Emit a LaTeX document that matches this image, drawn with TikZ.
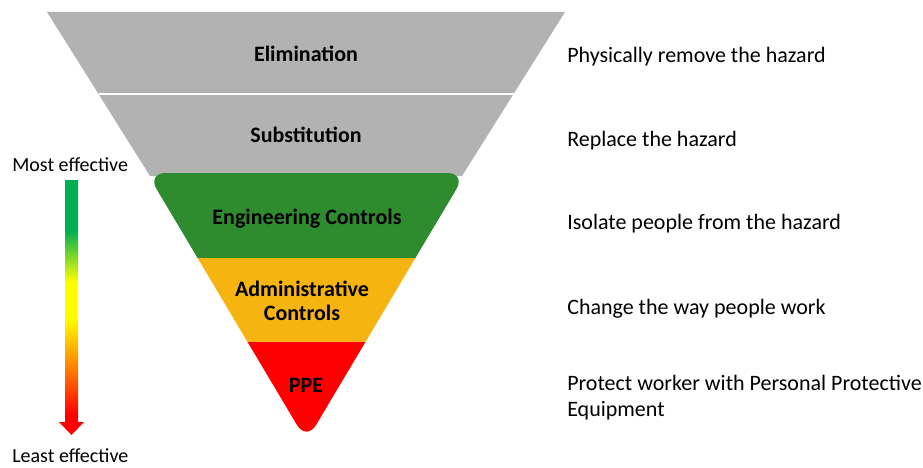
\documentclass[tikz,border=0pt]{standalone}
\usepackage{fontspec}
\setmainfont{Carlito}
\definecolor{hazgray}{RGB}{178,178,178}
\definecolor{hazgreen}{RGB}{46,139,46}
\definecolor{hazamber}{RGB}{245,180,16}
\definecolor{hazred}{RGB}{255,0,0}
\definecolor{effgreen}{RGB}{0,176,80}
\definecolor{effyellow}{RGB}{255,255,0}
\definecolor{efforange}{RGB}{255,153,0}
\pgfdeclareverticalshading{effshade}{100bp}{color(0bp)=(hazred); color(29bp)=(hazred); color(40bp)=(efforange); color(48bp)=(effyellow); color(55bp)=(effyellow); color(65bp)=(effgreen); color(100bp)=(effgreen)}
\begin{document}
\begin{tikzpicture}[x=0.75pt,y=-0.75pt,
		layer/.style={font=\fontsize{16.5}{17.5}\selectfont\bfseries,inner sep=0pt,align=center,anchor=base},
		note/.style={font=\fontsize{16.5}{19.5}\selectfont,inner sep=0pt,align=left,anchor=base west},
		efflabel/.style={font=\fontsize{15}{18}\selectfont,inner sep=0pt,anchor=base west}]
		\useasboundingbox (0,0) rectangle (923,467);
		% grey layers
		\coordinate (T1) at (47,12);
		\coordinate (T2) at (565,12);
		\coordinate (T3) at (462,176);
		\coordinate (T4) at (150,176);
		\coordinate (D1) at (98.5,94);
		\coordinate (D2) at (513.5,94);
		\fill[hazgray] (T1) -- (T2) -- (T3) -- (T4) -- cycle;
		\draw[white,line width=1.2] (D1) to (D2);
		% coloured layers
		\coordinate (C1) at (147,173);
		\coordinate (C2) at (466,173);
		\coordinate (C3) at (306.5,441);
		\foreach \ya/\yb/\col in {170/258/hazgreen,258/342/hazamber,342/450/hazred}{
			\begin{scope}
				\clip (0,\ya) rectangle (923,\yb);
				\fill[\col,rounded corners=14] (C1) -- (C2) -- (C3) -- cycle;
			\end{scope}
		}
		% effectiveness arrow
		\coordinate (S1) at (65,180);
		\coordinate (S2) at (78,180);
		\coordinate (H1) at (59,422);
		\coordinate (H2) at (84,422);
		\coordinate (tip) at (71.5,435);
		\shade[shading=effshade] (S1) -- (S2) -- (S2 |- H2) -- (H2) -- (tip) -- (H1) -- (S1 |- H1) -- cycle;
		\node[efflabel] (most) at (12,171.5) {Most effective};
		\node[efflabel] (least) at (12,462) {Least effective};
		% layer names
		\node[layer] (elim) at (306,61) {Elimination};
		\node[layer] (subs) at (306,142) {Substitution};
		\node[layer] (eng) at (307,224) {Engineering Controls};
		\node[layer] (admin) at (302,320) {Administrative\\Controls};
		\node[layer] (ppe) at (306,392) {PPE};
		% what each one does
		\node[note] (elimtext) at (567,63) {Physically remove the hazard};
		\node[note] (substext) at (567,146) {Replace the hazard};
		\node[note] (engtext) at (567,229) {Isolate people from the hazard};
		\node[note] (admintext) at (567,314) {Change the way people work};
		\node[note] (ppetext) at (567,416.7) {Protect worker with Personal Protective\\Equipment};
	\end{tikzpicture}
\end{document}
